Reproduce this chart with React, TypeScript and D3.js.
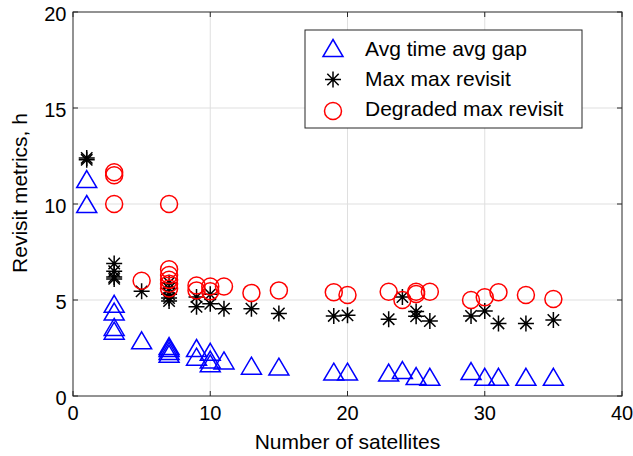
import React from "react";
import * as d3 from "d3";

// satellites count (x) and metric value in hours (y) for each series
const avgGapX = [1, 1, 3, 3, 3, 3, 5, 7, 7, 7, 7, 9, 9, 10, 10, 10, 11, 13, 15, 19, 20, 23, 24, 25, 26, 29, 30, 31, 33, 35];
const avgGapY = [11.3, 10.0, 4.8, 4.4, 3.6, 3.4, 2.9, 2.6, 2.5, 2.35, 2.2, 2.5, 2.05, 2.3, 1.9, 1.7, 1.85, 1.58, 1.53, 1.27, 1.27, 1.22, 1.35, 1.04, 1.0, 1.3, 1.0, 1.0, 1.0, 1.0];

const maxRevX = [1, 1, 3, 3, 3, 3, 5, 7, 7, 7, 7, 7, 9, 9, 10, 10, 11, 13, 15, 19, 20, 23, 24, 25, 25, 26, 29, 30, 31, 33, 35];
const maxRevY = [12.4, 12.3, 6.9, 6.5, 6.2, 6.1, 5.45, 5.9, 5.6, 5.3, 5.1, 4.95, 5.15, 4.65, 5.3, 4.8, 4.55, 4.55, 4.3, 4.17, 4.2, 4.0, 5.15, 4.4, 4.15, 3.9, 4.17, 4.43, 3.78, 3.78, 3.96];

const degradedX = [3, 3, 3, 5, 7, 7, 7, 7, 7, 7, 9, 9, 10, 10, 11, 13, 15, 19, 20, 23, 24, 25, 25, 26, 29, 30, 31, 33, 35];
const degradedY = [11.5, 11.65, 10.0, 6.0, 10.0, 6.6, 6.3, 6.05, 5.85, 5.6, 5.75, 5.5, 5.7, 5.45, 5.7, 5.37, 5.5, 5.4, 5.26, 5.43, 5.0, 5.43, 5.31, 5.43, 5.0, 5.14, 5.4, 5.26, 5.05];

const xTicks = [0, 10, 20, 30, 40];
const yTicks = [0, 5, 10, 15, 20];
const legendLabels = ["Avg time avg gap", "Max max revisit", "Degraded max revisit"];

const W = 633;
const H = 456;
const margin = { left: 73, right: 11, top: 12, bottom: 60 };
const font = "'Liberation Sans', Arial, Helvetica, sans-serif";

const x = d3.scaleLinear().domain([0, 40]).range([margin.left, W - margin.right]);
const y = d3.scaleLinear().domain([0, 20]).range([H - margin.bottom, margin.top]);

// MATLAB-ish markers
const tri = (cx: number, cy: number) => {
  const w = 10, h = 8.5;
  return `M${cx},${cy - h}L${cx + w},${cy + h}L${cx - w},${cy + h}Z`;
};
const star = (cx: number, cy: number) => {
  const r = 8, d = 5.7;
  return `M${cx - r},${cy}H${cx + r}M${cx},${cy - r}V${cy + r}` +
    `M${cx - d},${cy - d}L${cx + d},${cy + d}M${cx - d},${cy + d}L${cx + d},${cy - d}`;
};

function Marker({ kind, cx, cy }: { kind: number; cx: number; cy: number }) {
  if (kind === 0) return <path d={tri(cx, cy)} fill="none" stroke="#0000ff" strokeWidth={1.5} />;
  if (kind === 1) return <path d={star(cx, cy)} fill="none" stroke="#000" strokeWidth={1.5} />;
  return <circle cx={cx} cy={cy} r={8.5} fill="none" stroke="#ff0000" strokeWidth={1.5} />;
}

export default function App() {
  const [x0, x1] = x.range();
  const [y0, y1] = y.range();
  const series = [
    { xs: avgGapX, ys: avgGapY },
    { xs: maxRevX, ys: maxRevY },
    { xs: degradedX, ys: degradedY },
  ];
  const axisColor = "#262626";

  return (
    <svg width={W} height={H} style={{ position: "absolute", left: 0, top: 0, background: "#fff" }} fontFamily={font}>
      <rect x={0} y={0} width={W} height={H} fill="#fff" />
      {/* grid */}
      {xTicks.slice(1, -1).map((t) => (
        <line key={"gx" + t} x1={x(t)} x2={x(t)} y1={y1} y2={y0} stroke="#dfdfdf" strokeWidth={1} />
      ))}
      {yTicks.slice(1, -1).map((t) => (
        <line key={"gy" + t} x1={x0} x2={x1} y1={y(t)} y2={y(t)} stroke="#dfdfdf" strokeWidth={1} />
      ))}

      {/* data */}
      {series.map((s, k) =>
        s.xs.map((v, i) => <Marker key={k + "-" + i} kind={k} cx={x(v)} cy={y(s.ys[i])} />)
      )}

      {/* box and ticks */}
      <rect x={x0} y={y1} width={x1 - x0} height={y0 - y1} fill="none" stroke={axisColor} strokeWidth={1} />
      {xTicks.map((t) => (
        <g key={"tx" + t}>
          <line x1={x(t)} x2={x(t)} y1={y0} y2={y0 - 5} stroke={axisColor} />
          <line x1={x(t)} x2={x(t)} y1={y1} y2={y1 + 5} stroke={axisColor} />
          <text x={x(t)} y={y0 + 23.5} textAnchor="middle" fontSize={20} fill="#000">{t}</text>
        </g>
      ))}
      {yTicks.map((t) => (
        <g key={"ty" + t}>
          <line x1={x0} x2={x0 + 5} y1={y(t)} y2={y(t)} stroke={axisColor} />
          <line x1={x1} x2={x1 - 5} y1={y(t)} y2={y(t)} stroke={axisColor} />
          <text x={x0 - 6.5} y={y(t) + 8.5} textAnchor="end" fontSize={20} fill="#000">{t}</text>
        </g>
      ))}

      <text x={(x0 + x1) / 2} y={449} textAnchor="middle" fontSize={21} fill="#000">Number of satellites</text>
      <text transform={`translate(27,193) rotate(-90)`} textAnchor="middle" fontSize={21} fill="#000">
        Revisit metrics, h
      </text>

      {/* legend */}
      <g>
        <rect x={305} y={30} width={277} height={98} fill="#fff" stroke={axisColor} strokeWidth={1} />
        {legendLabels.map((lab, i) => (
          <g key={lab}>
            <Marker kind={i} cx={333} cy={48 + i * 31.5} />
            <text x={365} y={55.5 + i * 30.2} fontSize={21} fill="#000">{lab}</text>
          </g>
        ))}
      </g>
    </svg>
  );
}
